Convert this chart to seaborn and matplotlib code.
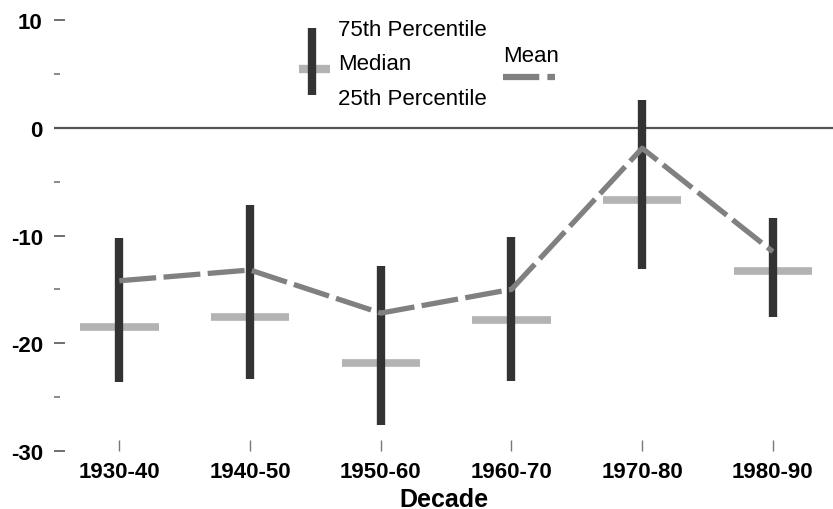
import numpy as np
import pandas as pd
import matplotlib
matplotlib.use('Agg')
import matplotlib.pyplot as plt
from matplotlib.lines import Line2D
import seaborn as sns

decades = ['1930-40', '1940-50', '1950-60', '1960-70', '1970-80', '1980-90']
p75 = [-10.2, -7.2, -12.8, -10.1, 2.6, -8.4]
p25 = [-23.6, -23.3, -27.6, -23.5, -13.1, -17.6]
median = [-18.5, -17.6, -21.8, -17.8, -6.7, -13.3]
mean = [-14.2, -13.2, -17.2, -15.0, -1.9, -11.5]

df = pd.DataFrame({'decade': decades, 'p75': p75, 'p25': p25,
                   'median': median, 'mean': mean})

sns.set_style('white')
plt.rcParams['font.family'] = ['Liberation Sans', 'DejaVu Sans']
plt.rcParams['text.color'] = 'black'
plt.rcParams['axes.labelcolor'] = 'black'

bar_col = '#333333'
med_col = '#b3b3b3'
mean_col = '#808080'

fig = plt.figure(figsize=(8.33, 5.10), dpi=100)
ax = fig.add_axes([0.0648, 0.1137, 0.9352, 0.8451])

xs = np.arange(len(df))
ax.axhline(0, color='#555555', lw=1.6, zorder=1)
ax.hlines(df['median'], xs - 0.3, xs + 0.3, color=med_col, lw=5.5, zorder=2,
          capstyle='butt')
ax.vlines(xs, df['p25'], df['p75'], color=bar_col, lw=6, zorder=3,
          capstyle='butt')
sns.lineplot(x=xs, y=df['mean'], ax=ax, color=mean_col, lw=3.8,
             dashes=False, zorder=4, legend=False)
ax.lines[-1].set_dashes((7, 1.4))
ax.lines[-1].set_dash_capstyle('butt')

ax.set_xlim(-0.5, 5.46)
ax.set_ylim(-30, 10)
for s in ax.spines.values():
    s.set_visible(False)

ax.set_xticks(xs)
ax.set_xticklabels(decades, fontsize=16, fontweight='bold')
ax.set_yticks([10, 0, -10, -20, -30])
ax.set_yticklabels(['10', '0', '-10', '-20', '-30'], fontsize=16, fontweight='bold')
ax.set_yticks([5, -5, -15, -25], minor=True)
ax.tick_params(axis='y', which='major', direction='in', length=8, width=1.2,
               color='#555555', labelcolor='black', pad=8, left=True)
ax.tick_params(axis='y', which='minor', direction='in', length=4, width=1.2,
               color='#777777', left=True)
ax.tick_params(axis='x', which='major', direction='in', length=8, width=1,
               color='#777777', labelcolor='black', pad=7.5, bottom=True)
ax.set_xlabel('Decade', fontsize=18, fontweight='bold', labelpad=3)
ax.set_ylabel('')

# legend drawn by hand
tr = ax.transAxes
ax.add_line(Line2D([0.3316, 0.3316], [0.9814, 0.8260], color=bar_col, lw=6,
                   solid_capstyle='butt', transform=tr, clip_on=False, zorder=5))
ax.add_line(Line2D([0.3145, 0.3542], [0.8862, 0.8862], color=med_col, lw=6,
                   solid_capstyle='butt', transform=tr, clip_on=False, zorder=4))
ax.text(0.365, 0.979, '75th Percentile', transform=tr, fontsize=16, va='center', ha='left')
ax.text(0.365, 0.9, 'Median', transform=tr, fontsize=16, va='center', ha='left')
ax.text(0.365, 0.818, '25th Percentile', transform=tr, fontsize=16, va='center', ha='left')
ax.text(0.5765, 0.918, 'Mean', transform=tr, fontsize=16, va='center', ha='left')
ax.add_line(Line2D([0.5765, 0.643], [0.8677, 0.8677], color=mean_col, lw=4.5,
                   dashes=(5.8, 1.3), dash_capstyle='butt',
                   transform=tr, clip_on=False))

fig.savefig('out.png', dpi=100)
